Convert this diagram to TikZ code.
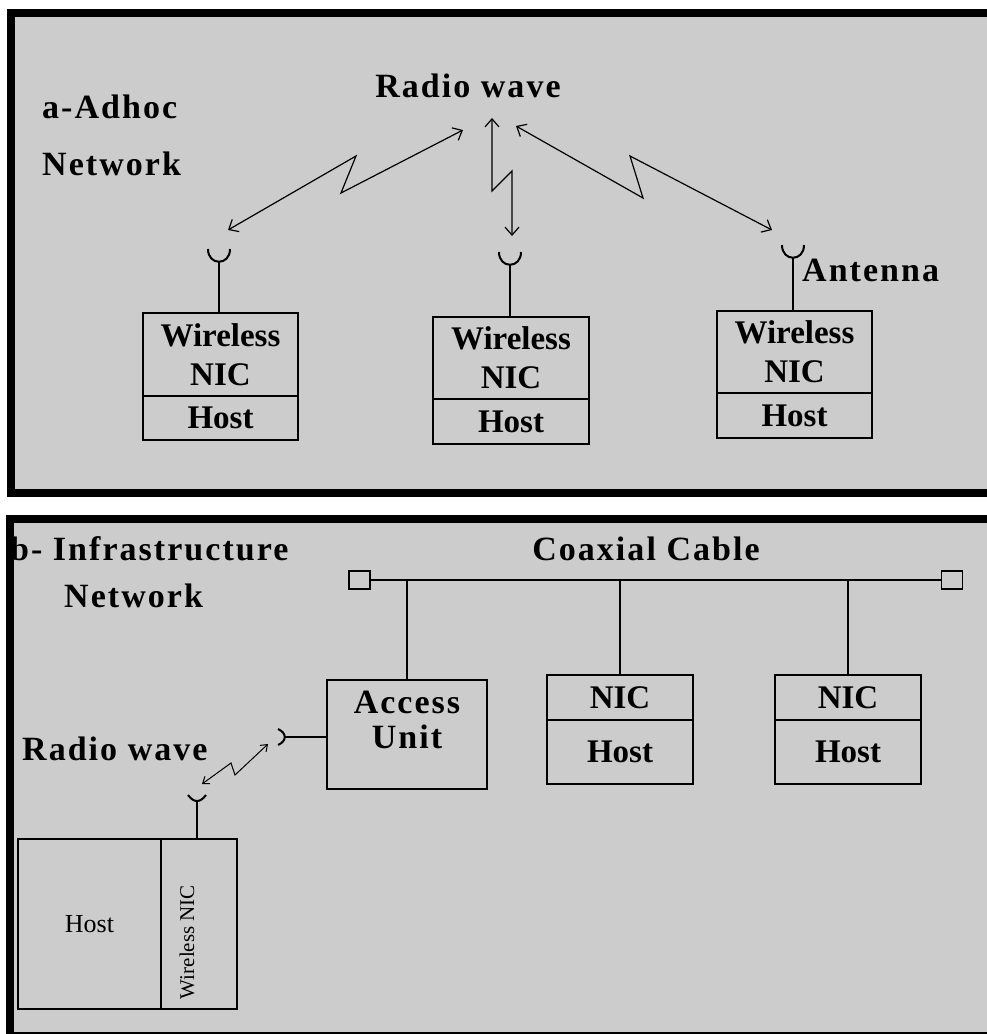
\documentclass[tikz,border=0pt]{standalone}
\usepackage{fontspec}
\setmainfont{Liberation Serif}
\newfontfamily\lblfont[LetterSpace=6]{Liberation Serif}
\usetikzlibrary{arrows.meta,positioning,calc}
\definecolor{panelgray}{HTML}{CCCCCC}

\begin{document}
\begin{tikzpicture}[x=1pt, y=-1pt,
  part/.style={draw, line width=2pt, outer sep=0pt, inner sep=0pt, align=center, font=\fontsize{33}{39}\selectfont\bfseries},
  lbl/.style={inner sep=0pt, font=\lblfont\fontsize{34}{38}\selectfont\bfseries},
  wave/.style={line width=1.2pt, {Straight Barb[length=8pt,width=14pt]}-{Straight Barb[length=8pt,width=14pt]}},
  smallwave/.style={line width=1pt, {Straight Barb[length=6pt,width=9pt]}-{Straight Barb[length=6pt,width=9pt]}},
  stem/.style={line width=2pt},
  cup/.style={line width=2pt},
  term/.style={draw, line width=1.5pt, minimum width=21pt, minimum height=18pt, inner sep=0pt, outer sep=0pt}]

    \useasboundingbox (0,0) rectangle (987,1034);
    % Panels
    \fill[white] (0,0) rectangle (987,1034);
    \fill[black] (7,9) rectangle (987,497);
    \fill[panelgray] (15,17) rectangle (987,489);
    \fill[black] (6,515) rectangle (987,1034);
    \fill[panelgray] (14,523) rectangle (987,1032);

    % a - Adhoc network
    \node[lbl, anchor=base west] (adhoc) at (42,118) {a-Adhoc};
    \node[lbl, anchor=base west] (adhocnet) at (42,175) {Network};
    \node[lbl, anchor=base] (radio) at (468,97) {Radio wave};
    \node[lbl, anchor=base west] (antlbl) at (802,281) {Antenna};

    \node[part, minimum width=155pt, minimum height=83pt, anchor=north] (nic1) at (220.5,313) {Wireless\\NIC};
    \node[part, minimum width=155pt, minimum height=44pt, below=0pt of nic1] (host1) {Host};
    \node[part, minimum width=156pt, minimum height=82pt, anchor=north] (nic2) at (511,317) {Wireless\\NIC};
    \node[part, minimum width=156pt, minimum height=45pt, below=0pt of nic2] (host2) {Host};
    \node[part, minimum width=155pt, minimum height=82pt, anchor=north] (nic3) at (794.5,311) {Wireless\\NIC};
    \node[part, minimum width=155pt, minimum height=45pt, below=0pt of nic3] (host3) {Host};

    % Antennas
    \coordinate (ant1) at (219,262);
    \coordinate (ant2) at (510,265);
    \coordinate (ant3) at (793,258);
    \draw[stem] (ant1) -- (ant1 |- nic1.north);
    \draw[stem] (ant2) -- (ant2 |- nic2.north);
    \draw[stem] (ant3) -- (ant3 |- nic3.north);
    \foreach \a in {ant1,ant2,ant3}
        \draw[cup] ($(\a)+(-11,-13)$) .. controls ($(\a)+(-11,4)$) and ($(\a)+(11,4)$) .. ($(\a)+(11,-13)$);

    % Radio links
    \coordinate (w1a) at (228,230);
    \coordinate (w1b) at (356,156);
    \coordinate (w1c) at (341,193);
    \coordinate (w1d) at (463,130);
    \draw[wave] (w1a) -- (w1b) -- (w1c) -- (w1d);
    \coordinate (w2a) at (492,118);
    \coordinate (w2b) at (492,191);
    \coordinate (w2c) at (512,171);
    \coordinate (w2d) at (512,236);
    \draw[wave] (w2a) -- (w2b) -- (w2c) -- (w2d);
    \coordinate (w3a) at (516,126);
    \coordinate (w3b) at (643,198);
    \coordinate (w3c) at (630,156);
    \coordinate (w3d) at (772,230);
    \draw[wave] (w3a) -- (w3b) -- (w3c) -- (w3d);

    % b - Infrastructure network
    \node[lbl, anchor=base west] (infra) at (10,560) {b- Infrastructure};
    \node[lbl, anchor=base west] (infranet) at (64,607) {Network};
    \node[lbl, anchor=base] (coaxlbl) at (646,560) {Coaxial Cable};
    \node[lbl, anchor=base west] (radio2) at (22,760) {Radio wave};

    \node[term] (tl) at (359.5,580) {};
    \node[term] (tr) at (952,580) {};
    \draw[stem] (tl) -- (tr);

    \node[part, minimum width=160pt, minimum height=109pt] (au) at (407,734.5) {};
    \node[lbl, anchor=north, align=center, font=\lblfont\fontsize{34}{35}\selectfont\bfseries] (autxt) at ($(au.north)+(0,11)$) {Access\\Unit};

    \node[part, minimum width=146pt, minimum height=45pt, anchor=north] (nicA) at (620,675) {NIC};
    \node[part, minimum width=146pt, minimum height=64pt, below=0pt of nicA] (hostA) {Host};
    \node[part, minimum width=146pt, minimum height=45pt, anchor=north] (nicB) at (848,675) {NIC};
    \node[part, minimum width=146pt, minimum height=64pt, below=0pt of nicB] (hostB) {Host};

    \draw[stem] (au.north |- tl) -- (au.north);
    \draw[stem] (nicA.north |- tl) -- (nicA.north);
    \draw[stem] (nicB.north |- tl) -- (nicB.north);

    % Access unit antenna
    \coordinate (antau) at (285,737);
    \draw[stem] (antau) -- (antau -| au.west);
    \draw[cup] ($(antau)+(-7,-8)$) .. controls ($(antau)+(2,-4)$) and ($(antau)+(2,4)$) .. ($(antau)+(-7,8)$);

    % Wireless host
    \node[part, font=\fontsize{26}{30}\selectfont, minimum width=143pt, minimum height=170pt, anchor=north west] (hostC) at (18,839) {Host};
    \node[part, minimum width=76pt, minimum height=170pt, right=0pt of hostC] (nicC) {};
    \node[rotate=90, inner sep=0pt, font=\fontsize{21}{24}\selectfont] (nicCtxt) at ($(nicC.center)+(-12,18)$) {Wireless NIC};

    \coordinate (antC) at (197,801);
    \draw[stem] (antC) -- (antC |- nicC.north);
    \draw[cup] ($(antC)+(-9,-6)$) .. controls ($(antC)+(-3,2)$) and ($(antC)+(3,2)$) .. ($(antC)+(9,-6)$);

    \coordinate (z1) at (202,784);
    \coordinate (z2) at (231,763);
    \coordinate (z3) at (235,775);
    \coordinate (z4) at (268,744);
    \draw[smallwave] (z1) -- (z2) -- (z3) -- (z4);
\end{tikzpicture}
\end{document}
